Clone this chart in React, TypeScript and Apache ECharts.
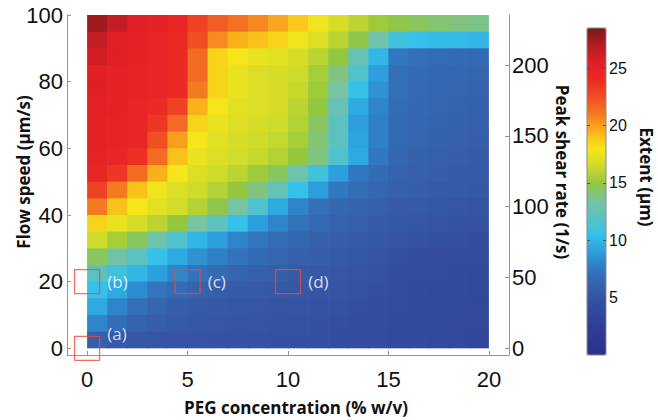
import React, { useEffect, useRef } from 'react';
import * as echarts from 'echarts';

// PEG concentration (% w/v) cell centres
const pegCenters = [0.5, 1.5, 2.5, 3.5, 4.5, 5.5, 6.5, 7.5, 8.5, 9.5, 10.5, 11.5, 12.5, 13.5, 14.5, 15.5, 16.5, 17.5, 18.5, 19.5];
// Flow speed (µm/s) cell centres, top row first
const flowCenters = [97.5, 92.5, 87.5, 82.5, 77.5, 72.5, 67.5, 62.5, 57.5, 52.5, 47.5, 42.5, 37.5, 32.5, 27.5, 22.5, 17.5, 12.5, 7.5, 2.5];
// Extent (µm), one row per flow speed (top first), one value per PEG concentration
const extentRows = [
  [27.5, 26.5, 25.5, 25, 24.5, 23, 22, 21.3, 20.6, 19.8, 18.8, 17.8, 16.8, 16, 15.3, 14.8, 14.5, 14.2, 14, 13.8],
  [26.5, 25.5, 25, 24.5, 24, 22.5, 20.5, 19.5, 19, 18.5, 17.8, 17, 16, 14.8, 13, 11, 10.5, 10.3, 10.2, 10],
  [26, 25.5, 25, 24.5, 24, 21.5, 18.5, 18, 17.5, 17.2, 16.8, 16, 15, 12.5, 10, 7.5, 7, 6.8, 6.7, 6.6],
  [25.5, 25, 24.8, 24.5, 24, 21.5, 18.5, 17.5, 17, 16.8, 16.5, 15.5, 14, 11.5, 9, 7, 6.7, 6.5, 6.4, 6.3],
  [25.5, 25, 24.8, 24.5, 24, 21, 18.5, 17.5, 17, 16.8, 16.3, 15.3, 13.5, 10.5, 8.5, 7, 6.6, 6.4, 6.3, 6.2],
  [25.2, 25, 24.5, 24.2, 23, 19.5, 18, 17.2, 17, 16.8, 16, 15, 12.5, 9.5, 8, 6.8, 6.5, 6.3, 6.2, 6.1],
  [25, 24.8, 24.5, 23.5, 21.5, 18.5, 17.5, 17, 16.8, 16.5, 15.8, 14.5, 12, 9, 7.8, 6.7, 6.4, 6.2, 6.1, 6],
  [25, 24.8, 24.5, 22.5, 20, 18, 17.2, 16.8, 16.5, 16.2, 15.5, 14.2, 12, 9.2, 7.8, 6.6, 6.3, 6.1, 6, 5.8],
  [24.8, 24.5, 23.8, 21.5, 19, 17.5, 17, 16.6, 16.3, 15.8, 15, 14, 11.5, 9.5, 7.5, 6.4, 6.1, 6, 5.8, 5.7],
  [24.5, 23.5, 21.5, 19.5, 18, 17, 16.5, 16, 15.3, 14.5, 13, 11, 9, 7.5, 6.7, 6.2, 6, 5.8, 5.6, 5.5],
  [23, 21, 19, 17.8, 17, 16.5, 15.8, 15, 14, 12.5, 10.5, 9, 7.5, 6.8, 6.4, 6, 5.8, 5.6, 5.5, 5.4],
  [21, 19, 18, 17.2, 16.6, 15.8, 14.8, 13.5, 11.5, 9.5, 8, 7, 6.5, 6.2, 6, 5.7, 5.5, 5.3, 5.2, 5.1],
  [18.5, 17.5, 16.8, 16, 15, 13.5, 12, 10.5, 9, 8, 7.2, 6.6, 6.2, 6, 5.7, 5.4, 5.2, 5, 4.9, 4.8],
  [16.5, 15.5, 14.5, 13, 11.5, 10, 9, 8, 7.3, 6.8, 6.4, 6.1, 5.8, 5.6, 5.3, 5, 4.8, 4.7, 4.6, 4.5],
  [14.5, 13.2, 12, 10.5, 9.5, 8.5, 7.8, 7.2, 6.7, 6.3, 6, 5.8, 5.5, 5.3, 5, 4.7, 4.5, 4.4, 4.3, 4.2],
  [12, 11, 10, 9, 8, 7.2, 6.7, 6.3, 6, 5.8, 5.6, 5.4, 5.2, 5, 4.8, 4.5, 4.3, 4.2, 4.1, 4],
  [10.5, 9.5, 8.3, 7.3, 6.7, 6.2, 5.9, 5.7, 5.5, 5.4, 5.3, 5.2, 5, 4.8, 4.6, 4.3, 4.1, 4, 3.9, 3.8],
  [9.5, 8, 7, 6.3, 5.9, 5.6, 5.4, 5.3, 5.2, 5.1, 5, 4.9, 4.8, 4.6, 4.4, 4.2, 4, 3.9, 3.8, 3.7],
  [8, 6.8, 6.2, 5.8, 5.5, 5.3, 5.2, 5.1, 5, 4.9, 4.8, 4.7, 4.6, 4.5, 4.3, 4.1, 4, 3.9, 3.8, 3.7],
  [5.8, 5.5, 5.3, 5.2, 5.1, 5, 4.9, 4.9, 4.8, 4.7, 4.7, 4.6, 4.5, 4.4, 4.2, 4, 3.9, 3.8, 3.7, 3.6],
];

const pegTicks = [0, 5, 10, 15, 20];
const flowTicks = [0, 20, 40, 60, 80, 100];
const shearTicks = [0, 50, 100, 150, 200];
const extentTicks = [5, 10, 15, 20, 25];

const markerNames = ['(a)', '(b)', '(c)', '(d)'];
const markerPeg = [0, 0, 5, 10];
const markerFlow = [0, 20, 20, 20];

const jetColors = [
  '#2b2f8e', '#2d3791', '#304396', '#344e9f', '#3660ab', '#3178c0', '#2c9fdc', '#35c1ea',
  '#5cc2c0', '#78c3a0', '#92c73e', '#cfdb2a', '#f6e51a', '#f9b11b', '#f47a21', '#f04e23',
  '#ec2a25', '#e11f26', '#b21d22', '#7a1719',
];

const axisColor = '#9c918e';
const tickFont = 'Liberation Sans, Arial, sans-serif';
const titleFont = 'Open Sans, sans-serif';

export default function App() {
  const ref = useRef<HTMLDivElement>(null);
  useEffect(() => {
    const chart = echarts.init(ref.current!, null, { renderer: 'svg' });
    const cells: number[][] = [];
    flowCenters.forEach((fy, r) => {
      pegCenters.forEach((px, c) => {
        cells.push([px, fy, extentRows[r][c]]);
      });
    });
    const markers = markerNames.map((n, i) => ({
      name: n,
      value: [markerPeg[i], markerFlow[i]],
      label: i === 0 ? { offset: [0, -15] } : {},
    }));
    const title = (text: string, x: number, y: number, rotation: number) => ({
      type: 'text',
      x,
      y,
      rotation,
      style: {
        text,
        fill: '#111',
        fontSize: 17,
        fontWeight: 'bold',
        fontFamily: titleFont,
        align: 'center',
        verticalAlign: 'middle',
        textAlign: 'center',
        textVerticalAlign: 'middle',
      },
    });
    chart.setOption({
      animation: false,
      backgroundColor: '#fff',
      grid: [
        { left: 67, top: 15, width: 442, height: 340, show: false },
        { left: 587, top: 28, width: 19, height: 327, show: true, borderColor: '#8a8a8a', borderWidth: 1, backgroundColor: 'rgba(0,0,0,0)', z: 6 },
      ],
      xAxis: [
        {
          gridIndex: 0, type: 'value', min: -1, max: 21,
          axisLine: { show: true, onZero: false, lineStyle: { color: axisColor, width: 1 } },
          axisTick: { show: true, inside: true, length: 4, customValues: pegTicks, lineStyle: { color: axisColor } },
          axisLabel: { customValues: pegTicks, fontSize: 22, fontFamily: tickFont, color: '#111', margin: 13 },
          splitLine: { show: false },
        },
        { gridIndex: 1, type: 'value', min: 0, max: 1, show: false },
      ],
      yAxis: [
        {
          gridIndex: 0, type: 'value', min: -2, max: 100, position: 'left',
          axisLine: { show: true, onZero: false, lineStyle: { color: axisColor, width: 1 } },
          axisTick: { show: true, inside: true, length: 4, customValues: flowTicks, lineStyle: { color: axisColor } },
          axisLabel: { customValues: flowTicks, fontSize: 22, fontFamily: tickFont, color: '#111', margin: 4 },
          splitLine: { show: false },
        },
        {
          gridIndex: 0, type: 'value', min: -4.706, max: 235.3, position: 'right',
          axisLine: { show: true, onZero: false, lineStyle: { color: axisColor, width: 1 } },
          axisTick: { show: true, inside: true, length: 4, customValues: shearTicks, lineStyle: { color: axisColor } },
          axisLabel: { customValues: shearTicks, fontSize: 22, fontFamily: tickFont, color: '#111', margin: 3 },
          splitLine: { show: false },
        },
        {
          gridIndex: 1, type: 'value', min: 0, max: 28.5, position: 'right',
          axisLine: { show: false, onZero: false },
          axisTick: { show: true, inside: true, length: 3, customValues: extentTicks, lineStyle: { color: '#555' } },
          axisLabel: { customValues: extentTicks, fontSize: 16, fontFamily: tickFont, color: '#111', margin: 3 },
          splitLine: { show: false },
          z: 6,
        },
        {
          gridIndex: 1, type: 'value', min: 0, max: 28.5, position: 'left',
          axisLine: { show: false, onZero: false },
          axisTick: { show: true, inside: true, length: 3, customValues: extentTicks, lineStyle: { color: '#555' } },
          axisLabel: { show: false },
          splitLine: { show: false },
          z: 6,
        },
      ],
      visualMap: {
        type: 'continuous',
        seriesIndex: 0,
        dimension: 2,
        min: 0,
        max: 28.5,
        inRange: { color: jetColors },
        left: 587,
        top: 28,
        itemWidth: 19,
        itemHeight: 327,
        calculable: false,
        hoverLink: false,
        padding: 0,
        orient: 'vertical',
        show: true,
      },
      series: [
        {
          type: 'custom',
          xAxisIndex: 0,
          yAxisIndex: 0,
          silent: true,
          encode: { x: 0, y: 1 },
          data: cells,
          renderItem: (params: any, api: any) => {
            const x = api.value(0);
            const y = api.value(1);
            const p0 = api.coord([x - 0.5, y + 2.5]);
            const p1 = api.coord([x + 0.5, y - 2.5]);
            const isRight = x > 19;
            const isBottom = y < 3;
            return {
              type: 'rect',
              shape: {
                x: p0[0],
                y: p0[1],
                width: p1[0] - p0[0] + (isRight ? 0 : 0.7),
                height: p1[1] - p0[1] + (isBottom ? 0 : 0.7),
              },
              style: { fill: api.visual('color') },
            };
          },
        },
        {
          type: 'scatter',
          xAxisIndex: 0,
          yAxisIndex: 0,
          silent: true,
          z: 5,
          data: markers,
          symbol: 'rect',
          symbolSize: [25, 24],
          itemStyle: { color: 'rgba(0,0,0,0)', borderColor: '#ee4a3a', borderWidth: 1.3 },
          label: {
            show: true,
            position: 'right',
            distance: 7,
            formatter: '{b}',
            color: '#fff',
            fontSize: 17,
            fontFamily: titleFont,
          },
        },
      ],
      graphic: [
        title('Flow speed (µm/s)', 23, 172, Math.PI / 2),
        title('PEG concentration (% w/v)', 296, 407, 0),
        title('Peak shear rate (1/s)', 562, 172, -Math.PI / 2),
        title('Extent (µm)', 646, 177, -Math.PI / 2),
      ],
    });
    return () => chart.dispose();
  }, []);
  return (
    <div
      ref={ref}
      style={{ position: 'fixed', left: 0, top: 0, width: 658, height: 420, background: '#fff' }}
    />
  );
}
